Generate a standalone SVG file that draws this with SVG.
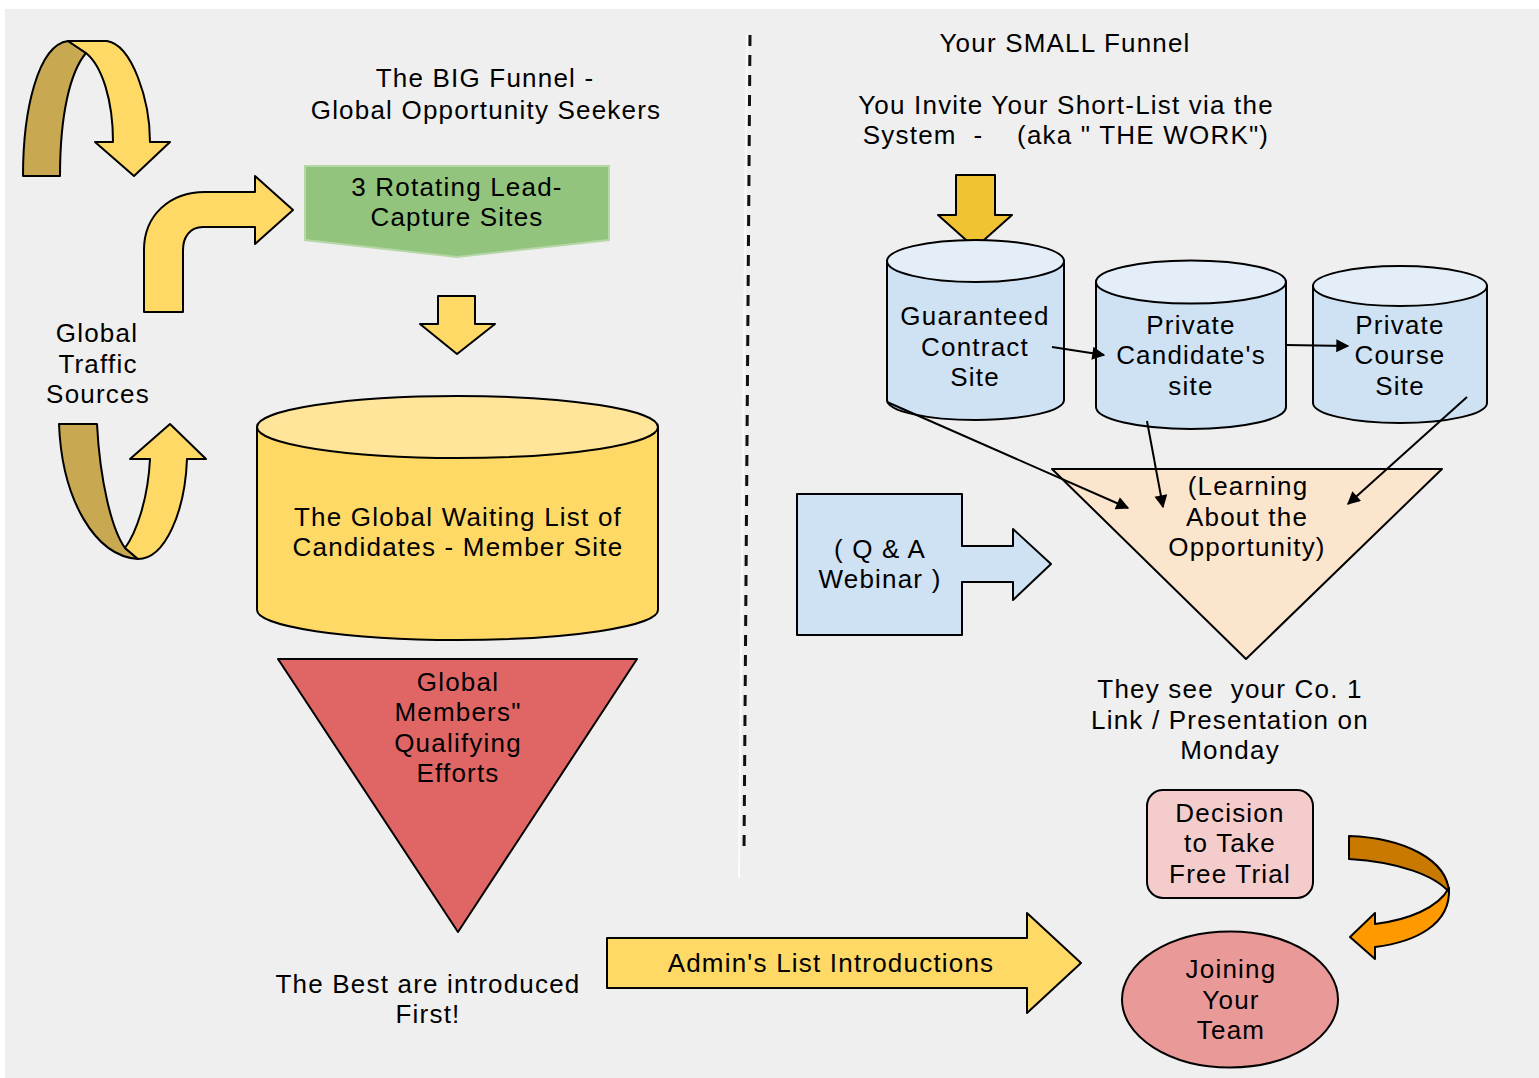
<svg xmlns="http://www.w3.org/2000/svg" width="1539" height="1078" viewBox="0 0 1539 1078">
<defs>
<marker id="ah" viewBox="0 0 10 10" refX="9" refY="5" markerWidth="15" markerHeight="13" markerUnits="userSpaceOnUse" orient="auto">
<path d="M0,0 L10,5 L0,10 Z" fill="#000"/>
</marker>
<style>
.t{font-family:"Liberation Sans",Arial,sans-serif;font-size:26px;letter-spacing:1.2px;fill:#000;text-anchor:middle}
.s{stroke:#000;stroke-width:2;stroke-linejoin:round}
.y{fill:#ffd966}
.dk{fill:#c8a951}
.bl{fill:#cfe2f3}
.blt{fill:#e3eef9}
.ln{fill:none;stroke:#000;stroke-width:2}
</style>
</defs>
<rect x="0" y="0" width="1539" height="1078" fill="#ffffff"/>
<rect x="5" y="9" width="1534" height="1069" fill="#efefef"/>

<g id="divider">
<line x1="747" y1="35" x2="739" y2="878" stroke="#ffffff" stroke-width="2" opacity="0.8"/>
<line x1="750" y1="35" x2="744" y2="852" stroke="#111" stroke-width="3" stroke-dasharray="11 9"/>
</g>

<g id="uturn-top">
<path class="s dk" d="M23,176 L60,176 C60,115 70,72 86,53 L68,41 C38,45 23,110 23,176 Z"/>
<path class="s y" d="M68,41 L107,41 C132,45 150,100 150,142 L170,142 L134,176 L95,142 L113,142 C113,100 102,66 86,53 Z"/>
</g>

<g id="bent-arrow">
<path class="s y" d="M144,312 L144,250 C144,215 170,192 205,192 L255,192 L255,176 L293,210 L255,244 L255,227 L203,227 C190,227 183,237 183,250 L183,312 Z"/>
</g>

<g id="uturn-bottom">
<path class="s dk" d="M59,424 L97,424 C100,482 112,530 125,548 L138,559 C95,556 62,500 59,424 Z"/>
<path class="s y" d="M125,548 C136,533 148,500 150,459 L130,459 L170,424 L206,459 L187,459 C185,512 165,559 138,559 Z"/>
</g>

<g id="traffic-label">
<text class="t" x="97" y="342">Global</text>
<text class="t" x="98" y="373">Traffic</text>
<text class="t" x="98" y="403">Sources</text>
</g>

<g id="big-funnel-title">
<text class="t" x="485" y="87">The BIG Funnel -</text>
<text class="t" x="486" y="119">Global Opportunity Seekers</text>
</g>

<g id="lead-capture">
<path d="M305,166 L609,166 L609,240 L457,257 L305,240 Z" fill="#93c47d" stroke="#b6d7a8" stroke-width="2"/>
<text class="t" x="457" y="196">3 Rotating Lead-</text>
<text class="t" x="457" y="226">Capture Sites</text>
</g>

<g id="down-arrow-1">
<path class="s y" d="M438,296 L475,296 L475,324 L495,324 L457,354 L420,324 L438,324 Z"/>
</g>

<g id="waiting-list">
<path class="s" fill="#ffd966" d="M257,427 L257,610 A200.5,30 0 0 0 658,610 L658,427 Z"/>
<ellipse class="s" cx="457.5" cy="427" rx="200.5" ry="31" fill="#ffe599"/>
<text class="t" x="458" y="526">The Global Waiting List of</text>
<text class="t" x="458" y="556">Candidates - Member Site</text>
</g>

<g id="qualifying">
<path class="s" fill="#e06666" d="M278,659 L637,659 L458,932 Z"/>
<text class="t" x="458" y="691">Global</text>
<text class="t" x="458" y="721">Members"</text>
<text class="t" x="458" y="752">Qualifying</text>
<text class="t" x="458" y="782">Efforts</text>
</g>

<g id="best-label">
<text class="t" x="428" y="993">The Best are introduced</text>
<text class="t" x="428" y="1023">First!</text>
</g>

<g id="admin-arrow">
<path class="s y" d="M607,938 L1027,938 L1027,913 L1081,963 L1027,1013 L1027,988 L607,988 Z"/>
<text class="t" x="831" y="972">Admin's List Introductions</text>
</g>

<g id="small-funnel-title">
<text class="t" x="1065" y="52">Your SMALL Funnel</text>
<text class="t" x="1066" y="114">You Invite Your Short-List via the</text>
<text class="t" x="1066" y="144" style="white-space:pre">System  -    (aka " THE WORK")</text>
</g>

<g id="down-arrow-2">
<path class="s" fill="#f1c232" d="M956,175 L995,175 L995,215 L1012,215 L975,248 L938,215 L956,215 Z"/>
</g>

<g id="guaranteed">
<path class="s bl" d="M887,261 L887,400 A88.5,20 0 0 0 1064,400 L1064,261 Z"/>
<ellipse class="s blt" cx="975.5" cy="261" rx="88.5" ry="21"/>
<text class="t" x="975" y="325">Guaranteed</text>
<text class="t" x="975" y="356">Contract</text>
<text class="t" x="975" y="386">Site</text>
</g>

<g id="candidate-site">
<path class="s bl" d="M1096,282 L1096,407 A95,22 0 0 0 1286,407 L1286,282 Z"/>
<ellipse class="s blt" cx="1191" cy="282" rx="95" ry="21.5"/>
<text class="t" x="1191" y="334">Private</text>
<text class="t" x="1191" y="364">Candidate's</text>
<text class="t" x="1191" y="395">site</text>
</g>

<g id="course-site">
<path class="s bl" d="M1313,286 L1313,403 A87,20 0 0 0 1487,403 L1487,286 Z"/>
<ellipse class="s blt" cx="1400" cy="286" rx="87" ry="20"/>
<text class="t" x="1400" y="334">Private</text>
<text class="t" x="1400" y="364">Course</text>
<text class="t" x="1400" y="395">Site</text>
</g>

<g id="learning">
<path class="s" fill="#fce5cd" d="M1052,469 L1442,469 L1246,659 Z"/>
<text class="t" x="1248" y="495">(Learning</text>
<text class="t" x="1247" y="526">About the</text>
<text class="t" x="1247" y="556">Opportunity)</text>
</g>

<g id="webinar">
<path class="s bl" d="M797,494 L962,494 L962,546 L1013,546 L1013,529 L1051,564 L1013,600 L1013,582 L962,582 L962,635 L797,635 Z"/>
<text class="t" x="880" y="558">( Q &amp; A</text>
<text class="t" x="880" y="588">Webinar )</text>
</g>

<g id="presentation-label">
<text class="t" x="1230" y="698" style="white-space:pre">They see  your Co. 1</text>
<text class="t" x="1230" y="729">Link / Presentation on</text>
<text class="t" x="1230" y="759">Monday</text>
</g>

<g id="decision">
<rect class="s" x="1147" y="790" width="166" height="108" rx="16" fill="#f4cccc"/>
<text class="t" x="1230" y="822">Decision</text>
<text class="t" x="1230" y="852">to Take</text>
<text class="t" x="1230" y="883">Free Trial</text>
</g>

<g id="curved-arrow">
<path class="s" fill="#c97800" d="M1349,836 C1405,838 1447,860 1449,892 C1435,876 1400,862 1349,859 Z"/>
<path class="s" fill="#ff9900" d="M1449,888 C1451,925 1415,942 1375,947 L1375,959 L1350,937 L1375,913 L1375,924 C1408,920 1438,908 1449,888 Z"/>
</g>

<g id="joining">
<ellipse class="s" cx="1230" cy="999.5" rx="108" ry="68" fill="#ea9999"/>
<text class="t" x="1231" y="978">Joining</text>
<text class="t" x="1231" y="1009">Your</text>
<text class="t" x="1231" y="1039">Team</text>
</g>

<g id="connectors">
<line class="ln" x1="1052" y1="347" x2="1104" y2="355" marker-end="url(#ah)"/>
<line class="ln" x1="1286" y1="345" x2="1348" y2="346" marker-end="url(#ah)"/>
<line class="ln" x1="887" y1="402" x2="1128" y2="508" marker-end="url(#ah)"/>
<line class="ln" x1="1147" y1="421" x2="1163" y2="507" marker-end="url(#ah)"/>
<line class="ln" x1="1467" y1="397" x2="1348" y2="504" marker-end="url(#ah)"/>
</g>
</svg>
